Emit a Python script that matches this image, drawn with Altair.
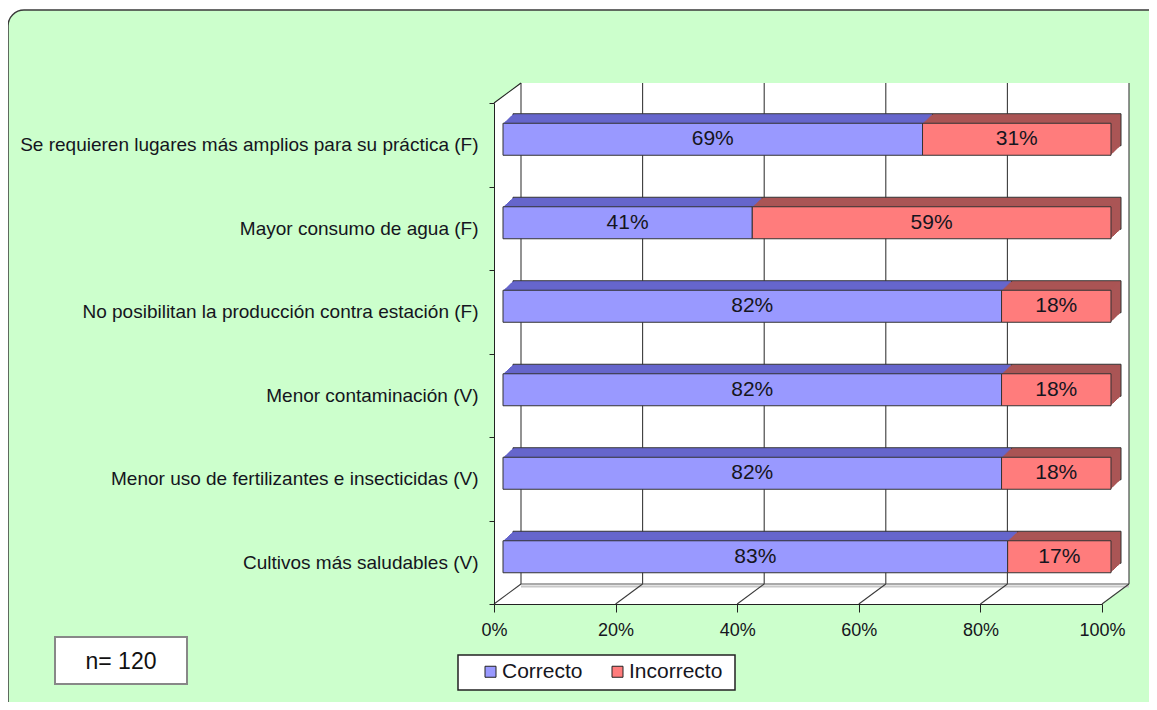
import altair as alt
import pandas as pd

# ---------------- data ----------------
categories = [
    "Se requieren lugares más amplios para su práctica (F)",
    "Mayor consumo de agua (F)",
    "No posibilitan la producción contra estación (F)",
    "Menor contaminación (V)",
    "Menor uso de fertilizantes e insecticidas (V)",
    "Cultivos más saludables (V)",
]
correcto = [69, 41, 82, 82, 82, 83]
incorrecto = [31, 59, 18, 18, 18, 17]
series = ["Correcto", "Incorrecto"]
x_ticks = [0, 0.2, 0.4, 0.6, 0.8, 1.0]
sample_note = "n= 120"

# ---------------- style ----------------
W, H = 608, 501
DX, DY = 27, -20        # depth of the 3D box
FX, FY = 9, -5.5        # front face of the bars
BX, BY = 10, -9.5       # depth of the bars
N_DEPTH = 10
N_WALL = 27
BAR = 32
BLUE, RED = "#9999FF", "#FF7C7C"
BLUE_D, RED_D = "#6666CC", "#AA5555"
EDGE = "#333333"
FONT = "Liberation Sans, Arial, sans-serif"
TXT = "#151520"

rows = []
for cat, c, i in zip(categories, correcto, incorrecto):
    rows.append(dict(cat=cat, serie="Correcto", start=0.0, end=c / 100,
                     mid=c / 200, label=f"{c}%"))
    rows.append(dict(cat=cat, serie="Incorrecto", start=c / 100, end=(c + i) / 100,
                     mid=(c + i / 2) / 100, label=f"{i}%"))
df = pd.DataFrame(rows)
ticks_df = pd.DataFrame({"t": x_ticks})
span = pd.DataFrame({"x0": [x_ticks[0]], "x1": [x_ticks[-1]]})
one = pd.DataFrame({"k": [0]})

xscale = alt.Scale(domain=[0, 1], nice=False, zero=False)
yscale = alt.Scale(domain=categories, paddingInner=0, paddingOuter=0)

X_AXIS = alt.Axis(title=None, values=x_ticks, format=".0%", grid=False, zindex=2,
                  labelFlush=False, labelOverlap=False,
                  labelFont=FONT, labelFontSize=18, labelColor=TXT,
                  labelPadding=9, tickSize=8, tickColor="#222", domainColor="#222")
Y_AXIS = alt.Axis(title=None, tickBand="extent", labelFont=FONT, labelFontSize=19,
                  labelColor=TXT, labelPadding=11, tickSize=5, tickColor="#222",
                  domainColor="#222", labelLimit=600, zindex=2)


def X(field):
    return alt.X(field, scale=xscale, axis=X_AXIS)


def Y():
    return alt.Y("cat:N", scale=yscale, axis=Y_AXIS)


dark_cond = alt.condition("datum.serie == 'Correcto'", alt.value(BLUE_D), alt.value(RED_D))

# background with rounded border
bg = alt.Chart(one).mark_rect(fill="#CCFFCC", stroke="#3a3a3a", strokeWidth=1.5,
                              cornerRadius=16).encode(
    x=alt.value(-486), x2=alt.value(700), y=alt.value(-93), y2=alt.value(650))

# white interior of the 3D box (sweep of the front plane back to the rear wall)
walls = []
for k in range(N_WALL, -1, -1):
    f = k / N_WALL
    walls.append(
        alt.Chart(span).mark_rect(fill="white", xOffset=DX * f, x2Offset=DX * f).encode(
            x=X("x0:Q"), x2="x1:Q", y=alt.value(DY * f), y2=alt.value(H + DY * f))
    )

grid = alt.Chart(ticks_df).mark_rule(color="#3a3a3a", strokeWidth=1.1, xOffset=DX).encode(
    x=X("t:Q"), y=alt.value(DY), y2=alt.value(H + DY))
floor_diag = alt.Chart(ticks_df).mark_rule(color="#3a3a3a", strokeWidth=1.1, x2Offset=DX).encode(
    x=X("t:Q"), x2="t:Q", y=alt.value(H), y2=alt.value(H + DY))
floor_back = alt.Chart(span).mark_rule(color="#555555", strokeWidth=1, xOffset=DX, x2Offset=DX).encode(
    x=X("x0:Q"), x2="x1:Q", y=alt.value(H + DY))
floor_back2 = alt.Chart(span).mark_rule(color="#c8c8c8", strokeWidth=2, xOffset=DX, x2Offset=DX).encode(
    x=X("x0:Q"), x2="x1:Q", y=alt.value(H + DY + 2.5))
corner_diag = alt.Chart(span).mark_rule(color="#222222", strokeWidth=1.1, x2Offset=DX).encode(
    x=X("x0:Q"), x2="x0:Q", y=alt.value(0), y2=alt.value(DY))

# extruded sides of the bars
depth_layers = []
for k in range(N_DEPTH, 0, -1):
    f = k / N_DEPTH
    props = dict(size=BAR, xOffset=FX + BX * f, x2Offset=FX + BX * f,
                 yOffset=FY + BY * f, y2Offset=FY + BY * f)
    if k == N_DEPTH:
        props.update(stroke=EDGE, strokeWidth=1)
    depth_layers.append(
        alt.Chart(df).mark_bar(**props).encode(
            y=Y(), x=X("start:Q"), x2="end:Q", color=dark_cond,
        )
    )

front = alt.Chart(df).mark_bar(size=BAR, xOffset=FX, x2Offset=FX, yOffset=FY,
                               y2Offset=FY, stroke=EDGE, strokeWidth=1).encode(
    y=Y(),
    x=X("start:Q"),
    x2="end:Q",
    color=alt.Color("serie:N", scale=alt.Scale(domain=series, range=[BLUE, RED]),
                    legend=alt.Legend(title=None, orient="none", legendX=-14, legendY=558,
                                      direction="horizontal", symbolType="square",
                                      symbolSize=121, symbolStrokeColor="#222",
                                      symbolStrokeWidth=1, labelFont=FONT,
                                      labelFontSize=21, labelColor=TXT,
                                      columnPadding=24, labelOffset=1, padding=0)),
)

labels = alt.Chart(df).mark_text(xOffset=FX, yOffset=FY, font=FONT, fontSize=21,
                                 color=TXT).encode(
    y=Y(), x=X("mid:Q"), text="label:N",
)

legend_box = alt.Chart(one).mark_rect(fill="white", stroke="#222", strokeWidth=1.5).encode(
    x=alt.value(-36), x2=alt.value(241), y=alt.value(552), y2=alt.value(587))
n_box = alt.Chart(one).mark_rect(fill="white", stroke="#888888", strokeWidth=2).encode(
    x=alt.value(-439), x2=alt.value(-307), y=alt.value(534), y2=alt.value(581))
n_text = alt.Chart(one).mark_text(font=FONT, fontSize=23, color="#111",
                                  align="center", baseline="middle").encode(
    x=alt.value(-373), y=alt.value(559), text=alt.value(sample_note))

chart = alt.layer(
    bg, *walls, grid, floor_back2, floor_back, floor_diag, corner_diag,
    *depth_layers, front, labels, legend_box, n_box, n_text
).properties(
    width=W, height=H,
    padding={"left": 486, "top": 95, "right": 47, "bottom": 98},
    autosize=alt.AutoSizeParams(type="none"),
).configure(background="white").configure_view(stroke="transparent")

chart.save("out.html", embed_options={"renderer": "svg", "actions": False})
